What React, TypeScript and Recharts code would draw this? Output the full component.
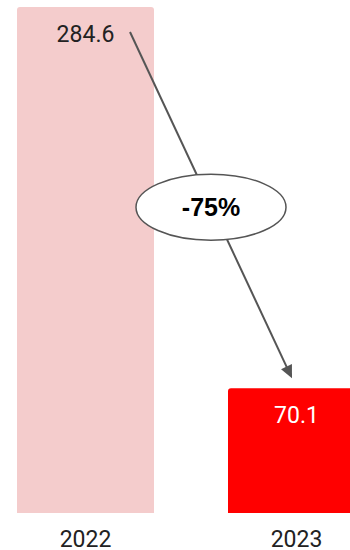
import React from "react";
import { BarChart, Bar, XAxis, YAxis, Cell, LabelList, ReferenceLine } from "recharts";

const years = ["2022", "2023"];
const values = [284.6, 70.1];
const barColors = ["#f4cccc", "#ff0000"];
const labelColors = ["#222222", "#ffffff"];
const changeLabel = "-75%";

const data = years.map((year, i) => ({ year, value: values[i] }));

// value text sits just inside the top of each bar
function ValueLabel(props: any) {
  const { x, y, width, value, index } = props;
  return (
    <text
      x={x + width / 2}
      y={y + 35}
      textAnchor="middle"
      fontSize={23}
      fontFamily="Roboto"
      fill={labelColors[index]}
    >
      {value}
    </text>
  );
}

// arrow from the first bar's label down to the second bar, with the % change in an ellipse
function ChangeArrow(props: any) {
  const { x1, y1, x2, y2 } = props;
  const sx = x1 + 44.5;
  const sy = y1 + 25;
  const ex = x2 - 4.5;
  const ey = y2 - 10;
  const dx = ex - sx;
  const dy = ey - sy;
  const len = Math.sqrt(dx * dx + dy * dy);
  const ux = dx / len;
  const uy = dy / len;
  const headLen = 13;
  const headW = 6;
  const bx = ex - ux * headLen;
  const by = ey - uy * headLen;
  const head = [
    `${ex},${ey}`,
    `${bx - uy * headW},${by + ux * headW}`,
    `${bx + uy * headW},${by - ux * headW}`,
  ].join(" ");
  const cx = (sx + ex) / 2;
  const cy = (sy + ey) / 2 + 2;
  return (
    <g>
      <line x1={sx} y1={sy} x2={bx + ux * 2} y2={by + uy * 2} stroke="#555555" strokeWidth={2} />
      <polygon points={head} fill="#555555" />
      <ellipse cx={cx} cy={cy} rx={75} ry={33} fill="#ffffff" stroke="#555555" strokeWidth={1.5} />
      <text
        x={cx}
        y={cy + 9}
        textAnchor="middle"
        fontSize={25}
        fontWeight="bold"
        fontFamily="Liberation Sans, Arial, sans-serif"
        fill="#000000"
      >
        {changeLabel}
      </text>
    </g>
  );
}

export default function App() {
  return (
    <div
      style={{
        position: "absolute",
        top: 0,
        left: 0,
        width: 350,
        height: 550,
        overflow: "hidden",
        background: "#ffffff",
        fontFamily: "Roboto",
      }}
    >
      <div style={{ position: "absolute", top: 0, left: -20 }}>
        <BarChart width={422} height={550} data={data} margin={{ top: 7, right: 0, bottom: 0, left: 0 }}>
          <XAxis
            dataKey="year"
            axisLine={false}
            tickLine={false}
            height={37}
            tickMargin={12}
            tick={{ fill: "#222222", fontSize: 23, fontFamily: "Roboto" }}
          />
          <YAxis hide domain={[0, "dataMax"]} />
          <Bar dataKey="value" barSize={137} radius={[3, 3, 0, 0]} isAnimationActive={false}>
            {data.map((d, i) => (
              <Cell key={d.year} fill={barColors[i]} />
            ))}
            <LabelList dataKey="value" content={ValueLabel} />
          </Bar>
          <ReferenceLine
            segment={[
              { x: years[0], y: values[0] },
              { x: years[1], y: values[1] },
            ]}
            ifOverflow="visible"
            shape={ChangeArrow}
          />
        </BarChart>
      </div>
    </div>
  );
}
